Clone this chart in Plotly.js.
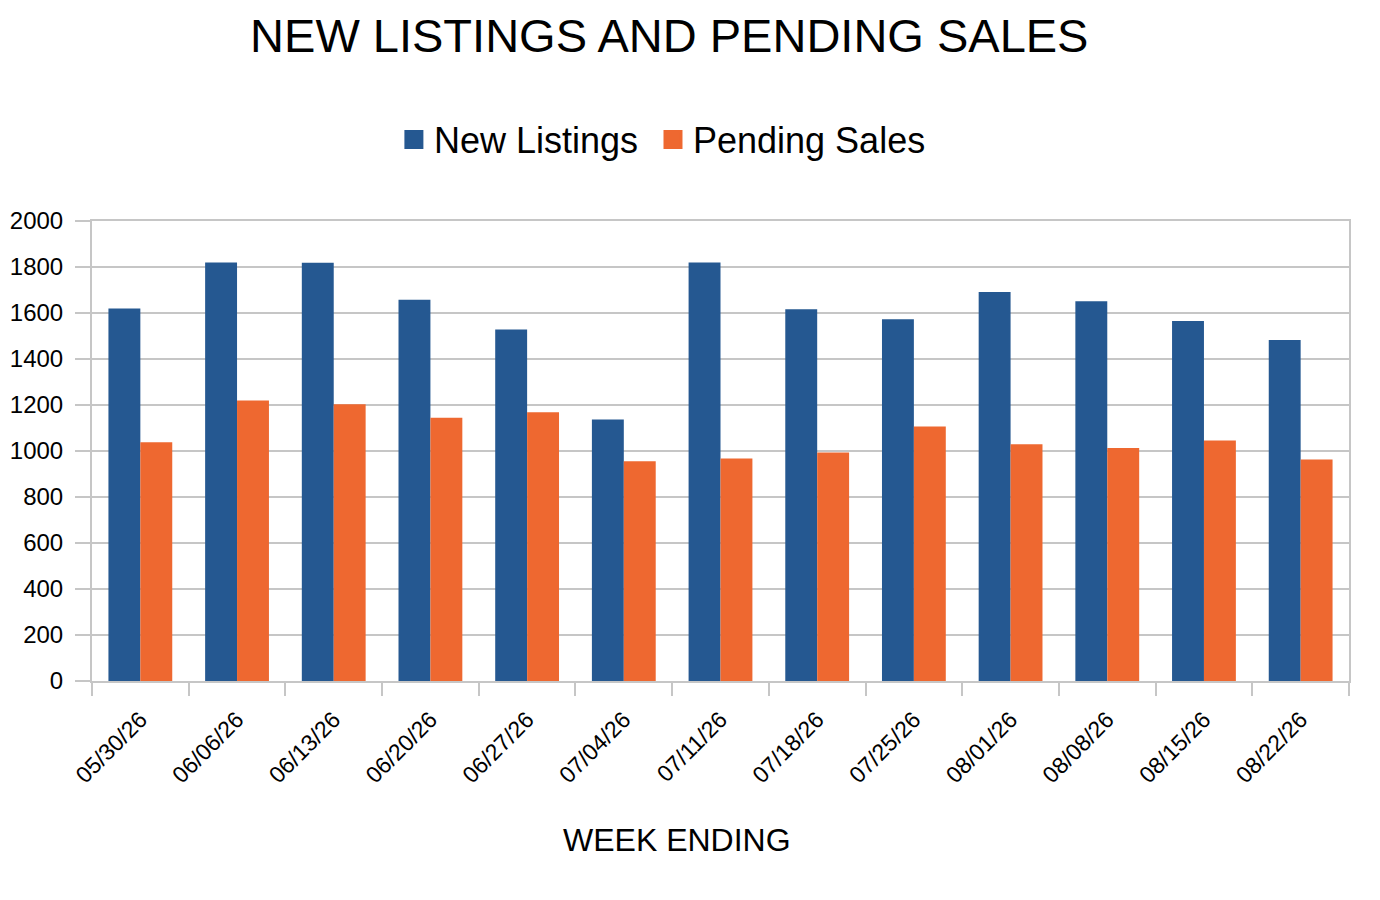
<!DOCTYPE html>
<html>
<head>
<meta charset="utf-8">
<script src="https://cdn.plot.ly/plotly-3.0.1.min.js"></script>
<style>
  html, body { margin: 0; padding: 0; background: #fff; }
  #chart { width: 1380px; height: 900px; }
</style>
</head>
<body>
<div id="chart"></div>
<script>
const weeks = ['05/30/26', '06/06/26', '06/13/26', '06/20/26', '06/27/26', '07/04/26', '07/11/26',
	'07/18/26', '07/25/26', '08/01/26', '08/08/26', '08/15/26', '08/22/26'];
const newListings = [1620, 1820, 1818, 1658, 1528, 1137, 1820, 1616, 1573, 1691, 1651, 1565, 1483];
const pendingSales = [1038, 1220, 1203, 1145, 1168, 955, 967, 994, 1106, 1029, 1013, 1046, 963];

const names = ['New Listings', 'Pending Sales'];
const colors = ['#255891', '#ee6830'];

const font = '"Liberation Sans", Arial, sans-serif';
const gray = '#c6c6c6';

let data = [];
[newListings, pendingSales].forEach((set, i) => {
	data.push({
		x: weeks,
		y: set,
		type: 'bar',
		name: names[i],
		showlegend: false,
		marker: {color: colors[i]}
	});
});
// legend entries with bigger square keys (no points drawn)
names.forEach((name, i) => {
	data.push({
		x: [null],
		y: [null],
		type: 'scatter',
		mode: 'markers',
		name: i == 0 ? name + '\u00a0' : name,
		marker: {symbol: 'square', size: 16, color: colors[i], line: {width: 3, color: colors[i]}}
	});
});

let layout = {
	width: 1380,
	height: 900,
	margin: {l: 92, r: 31, t: 221, b: 219},
	paper_bgcolor: '#fff',
	plot_bgcolor: '#fff',
	font: {family: font, color: '#000'},
	barmode: 'group',
	bargap: 0.34,
	bargroupgap: 0,
	title: {
		text: 'NEW LISTINGS AND PENDING SALES',
		font: {size: 47, color: '#000'},
		x: 0.485, xanchor: 'center',
		y: 0.961, yanchor: 'middle'
	},
	showlegend: true,
	legend: {
		orientation: 'h',
		xref: 'container', yref: 'container',
		x: 0.48, xanchor: 'center',
		y: 0.845, yanchor: 'middle',
		font: {size: 36},
		itemwidth: 30
	},
	annotations: [{
		text: 'WEEK ENDING',
		xref: 'paper', yref: 'paper',
		x: 0.465, xanchor: 'center',
		y: -0.346, yanchor: 'middle',
		showarrow: false,
		font: {size: 32}
	}],
	xaxis: {
		type: 'category',
		tickangle: -45,
		tickfont: {size: 23},
		ticks: 'outside',
		tickson: 'boundaries',
		ticklen: 13,
		tickwidth: 2,
		tickcolor: gray,
		ticklabelstandoff: 14,
		showline: true,
		linecolor: gray,
		linewidth: 2,
		mirror: true,
		showgrid: false,
		fixedrange: true
	},
	yaxis: {
		range: [0, 2000],
		dtick: 200,
		tickfont: {size: 24},
		ticks: 'outside',
		ticklen: 15,
		tickwidth: 2,
		tickcolor: gray,
		ticklabelstandoff: 7,
		showline: true,
		linecolor: gray,
		linewidth: 2,
		mirror: true,
		gridcolor: gray,
		gridwidth: 2,
		zeroline: false,
		fixedrange: true
	}
};

Plotly.newPlot('chart', data, layout, {displayModeBar: false});
</script>
</body>
</html>
